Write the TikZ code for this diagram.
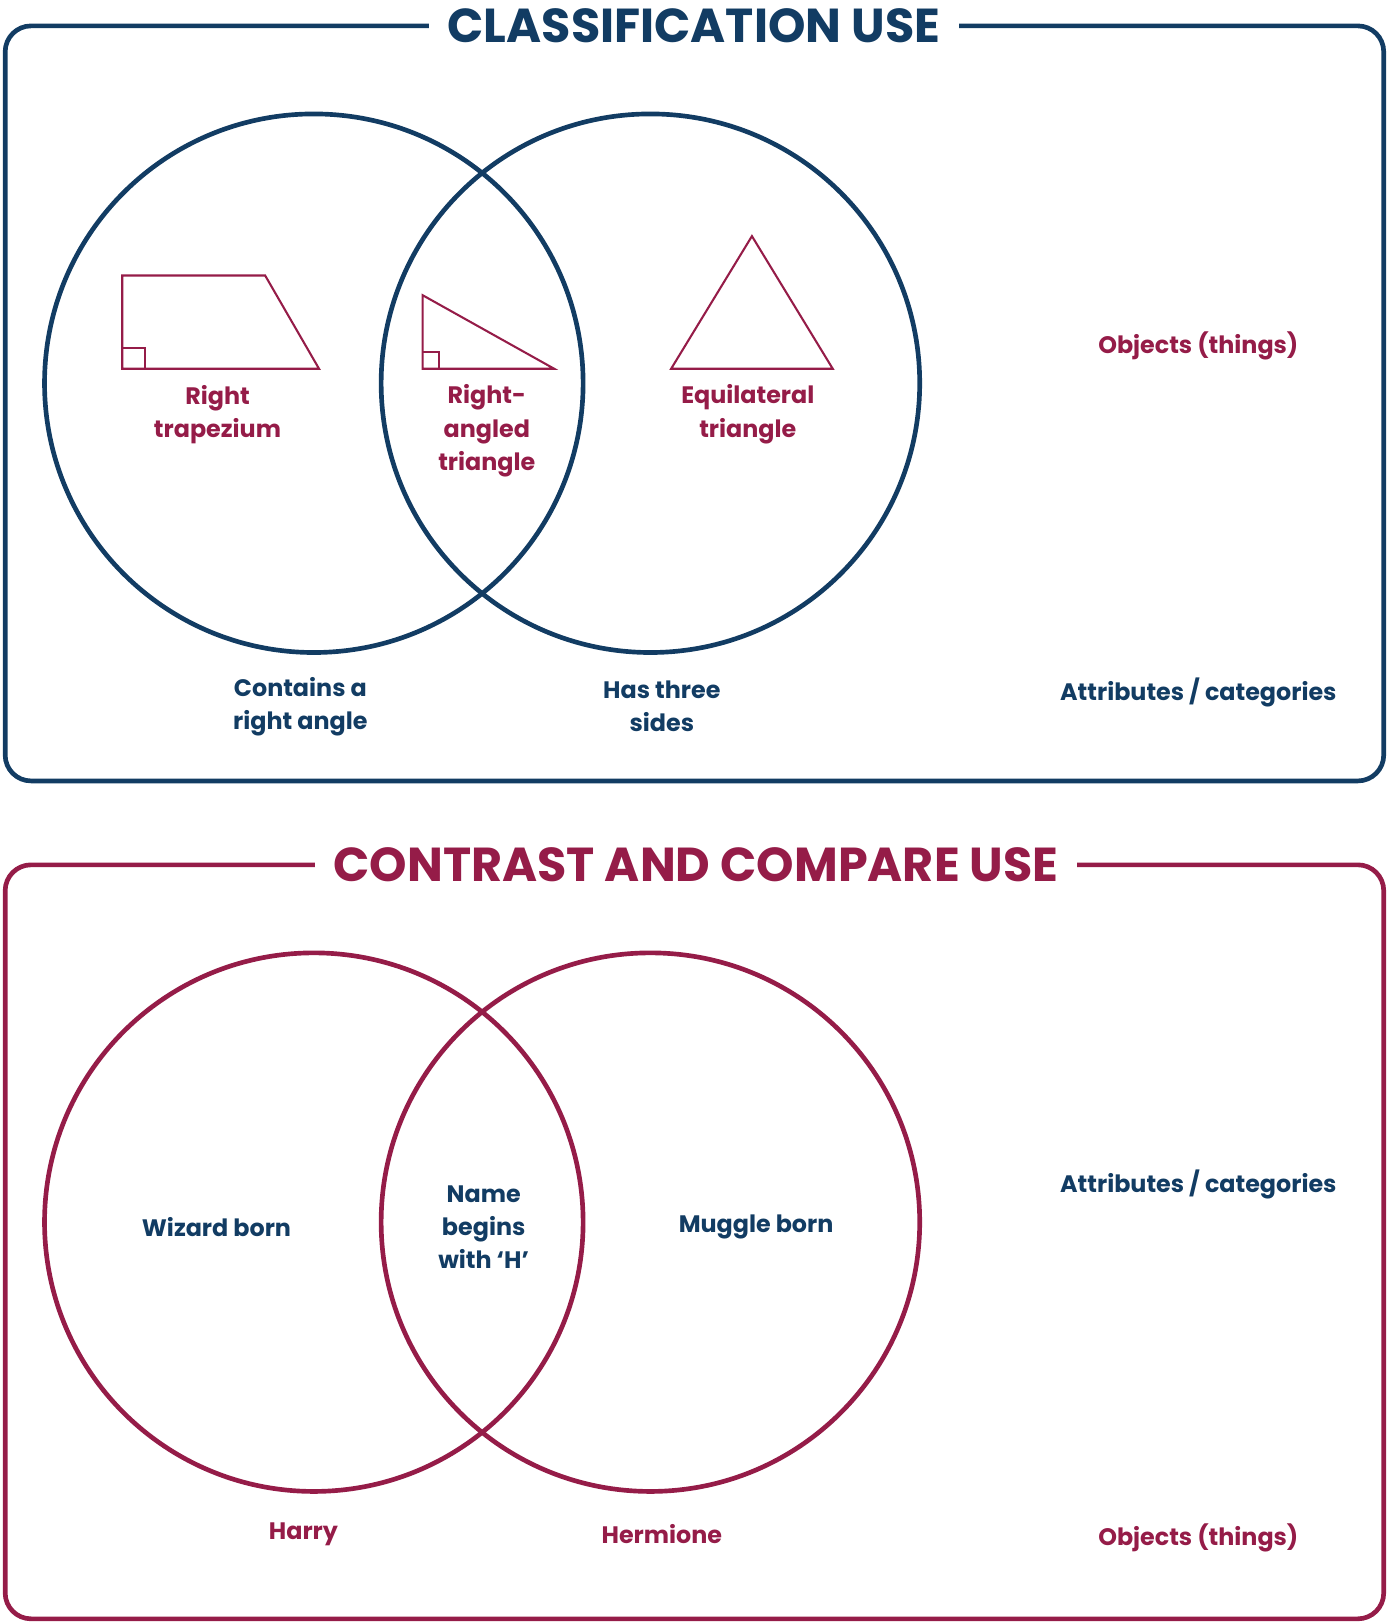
\documentclass[tikz,border=0pt]{standalone}
\usepackage{fontspec}
\setmainfont{Poppins}
\definecolor{cblue}{HTML}{123C63}
\definecolor{cred}{HTML}{951C48}
\begin{document}
\begin{tikzpicture}[x=1pt,y=-1pt,
  frame/.style={line width=4.5pt,rounded corners=25pt},
  venn/.style={line width=4.5pt},
  shp/.style={line width=2pt,cred,line join=miter},
  ttl/.style={fill=white,inner xsep=18pt,font=\fontsize{46}{50}\selectfont\bfseries},
  lbl/.style={align=center,font=\fontsize{23}{32}\selectfont\bfseries}]
\useasboundingbox (0,0) rectangle (1340,1568);
% top
\draw[frame,cblue] (5,25) rectangle (1336,754);
\node[ttl,text=cblue] (t1) at (670,25) {CLASSIFICATION USE};
\draw[venn,cblue] (303,370) circle (260);
\draw[venn,cblue] (628,370) circle (260);
\draw[shp] (118,266) -- (256,266) -- (308,356) -- (118,356) -- cycle;
\draw[shp] (118,336) -| (140,356);
\draw[shp] (408,285) -- (535,356) -- (408,356) -- cycle;
\draw[shp] (408,340) -| (424,356);
\draw[shp] (726,228) -- (804,356) -- (648,356) -- cycle;
\node[lbl,text=cred] (a1) at (210,400) {Right\\trapezium};
\node[lbl,text=cred] (a2) at (470,416) {Right-\\angled\\triangle};
\node[lbl,text=cred] (a3) at (722,400) {Equilateral\\triangle};
\node[lbl,text=cred] (a4) at (1157,334) {Objects (things)};
\node[lbl,text=cblue] (a5) at (290,682) {Contains a\\right angle};
\node[lbl,text=cblue] (a6) at (639,682) {Has three\\sides};
\node[lbl,text=cblue] (a7) at (1157,669) {Attributes / categories};
% bottom
\draw[frame,cred] (5,835) rectangle (1336,1563);
\node[ttl,text=cred] (t2) at (672,835) {CONTRAST AND COMPARE USE};
\draw[venn,cred] (303,1180) circle (260);
\draw[venn,cred] (628,1180) circle (260);
\node[lbl,text=cblue] (b1) at (209,1185) {Wizard born};
\node[lbl,text=cblue] (b2) at (467,1185) {Name\\begins\\with ‘H’};
\node[lbl,text=cblue] (b3) at (730,1185) {Muggle born};
\node[lbl,text=cblue] (b4) at (1157,1144) {Attributes / categories};
\node[lbl,text=cred] (b5) at (293,1481) {Harry};
\node[lbl,text=cred] (b6) at (639,1481) {Hermione};
\node[lbl,text=cred] (b7) at (1157,1485) {Objects (things)};
\end{tikzpicture}
\end{document}
